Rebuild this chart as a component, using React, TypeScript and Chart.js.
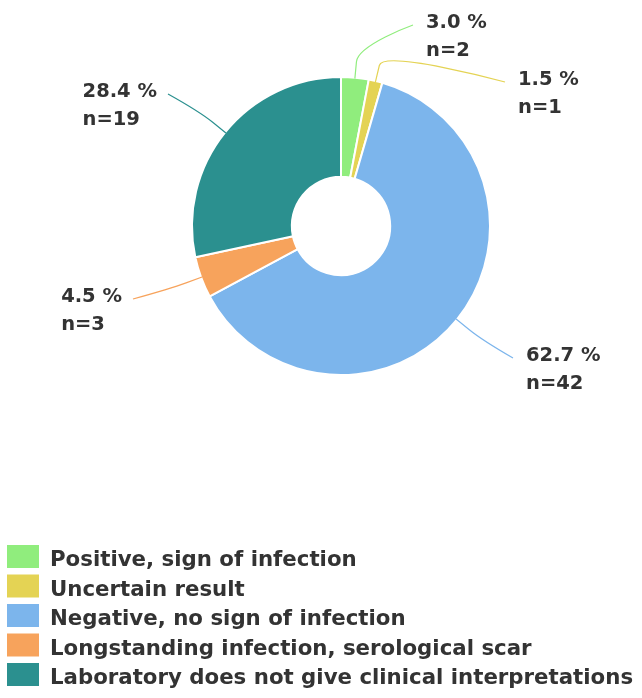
import React, { useEffect, useRef } from 'react';
import { Chart, registerables } from 'chart.js';

Chart.register(...registerables);

const categories = [
  'Positive, sign of infection',
  'Uncertain result',
  'Negative, no sign of infection',
  'Longstanding infection, serological scar',
  'Laboratory does not give clinical interpretations',
];
const counts = [2, 1, 42, 3, 19];
const colors = ['#90ed7d', '#e4d354', '#7cb5ec', '#f7a35c', '#2b908f'];

// connector end points of the data labels, relative to the doughnut centre (px)
const labelEnds: [number, number][] = [
  [72, -201],
  [164, -144],
  [172, 132],
  [-208, 73],
  [-173, -132],
];

const WIDTH = 642;
const HEIGHT = 698;
const TEXT_COLOR = '#333333';

const sliceLabelPlugin = {
  id: 'sliceLabels',
  afterDatasetsDraw(chart: any) {
    const ctx = chart.ctx as CanvasRenderingContext2D;
    const meta = chart.getDatasetMeta(0);
    const values = chart.data.datasets[0].data as number[];
    const total = values.reduce((a, b) => a + b, 0);
    meta.data.forEach((arc: any, i: number) => {
      const { x, y, startAngle, endAngle, outerRadius } = arc.getProps(
        ['x', 'y', 'startAngle', 'endAngle', 'outerRadius'],
        true
      );
      const mid = (startAngle + endAngle) / 2;
      const c = Math.cos(mid);
      const s = Math.sin(mid);
      const touch = { x: x + c * (outerRadius - 1), y: y + s * (outerRadius - 1) };
      const brk = { x: x + c * (outerRadius + 16), y: y + s * (outerRadius + 16) };
      const ctrl = { x: 2 * brk.x - touch.x, y: 2 * brk.y - touch.y };
      const end = { x: x + labelEnds[i][0], y: y + labelEnds[i][1] };
      ctx.save();
      ctx.strokeStyle = colors[i];
      ctx.lineWidth = 1.2;
      ctx.beginPath();
      ctx.moveTo(end.x, end.y);
      ctx.bezierCurveTo(end.x, end.y, ctrl.x, ctrl.y, brk.x, brk.y);
      ctx.lineTo(touch.x, touch.y);
      ctx.stroke();

      const right = end.x > x;
      ctx.font = 'bold 19.5px "DejaVu Sans"';
      ctx.fillStyle = TEXT_COLOR;
      ctx.textAlign = 'left';
      ctx.textBaseline = 'alphabetic';
      const pct = ((values[i] / total) * 100).toFixed(1) + ' %';
      const nTxt = 'n=' + values[i];
      const w = Math.max(ctx.measureText(pct).width, ctx.measureText(nTxt).width);
      const tx = right ? end.x + 13 : end.x - 11 - w;
      ctx.fillText(pct, tx, end.y + 3);
      ctx.fillText(nTxt, tx, end.y + 31);
      ctx.restore();
    });
  },
};

const legendPlugin = {
  id: 'listLegend',
  afterDraw(chart: any) {
    const ctx = chart.ctx as CanvasRenderingContext2D;
    const labels = chart.data.labels as string[];
    const bg = chart.data.datasets[0].backgroundColor as string[];
    ctx.save();
    ctx.font = 'bold 21.3px "DejaVu Sans"';
    ctx.textAlign = 'left';
    ctx.textBaseline = 'alphabetic';
    labels.forEach((lab, i) => {
      const top = 545 + i * 29.5;
      ctx.fillStyle = bg[i];
      ctx.fillRect(7, top, 32, 23);
      ctx.fillStyle = TEXT_COLOR;
      ctx.fillText(lab, 50, top + 21);
    });
    ctx.restore();
  },
};

export default function App() {
  const ref = useRef<HTMLCanvasElement | null>(null);
  useEffect(() => {
    document.body.style.margin = '0';
    document.body.style.overflow = 'hidden';
    if (!ref.current) return;
    const chart = new Chart(ref.current, {
      type: 'doughnut',
      data: {
        labels: categories,
        datasets: [
          {
            data: counts,
            backgroundColor: colors,
            borderColor: '#ffffff',
            borderWidth: 2,
            hoverOffset: 0,
          },
        ],
      },
      options: {
        responsive: false,
        animation: false,
        cutout: '33%',
        layout: { padding: { left: 191, right: 151, top: 76, bottom: 322 } },
        plugins: {
          legend: { display: false },
          tooltip: { enabled: false },
        },
      },
      plugins: [sliceLabelPlugin, legendPlugin],
    });
    return () => chart.destroy();
  }, []);
  return (
    <div style={{ width: WIDTH, height: HEIGHT, background: '#ffffff' }}>
      <canvas ref={ref} width={WIDTH} height={HEIGHT} style={{ display: 'block' }} />
    </div>
  );
}
